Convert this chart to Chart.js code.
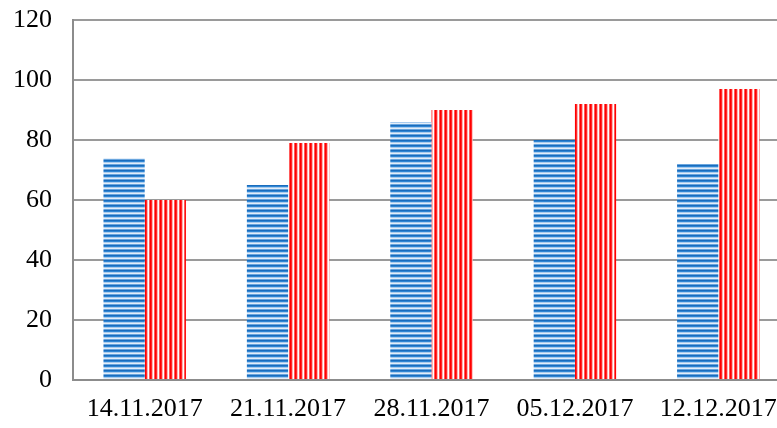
<!DOCTYPE html>
<html>
<head>
<meta charset="utf-8">
<script src="https://cdn.jsdelivr.net/npm/chart.js@4/dist/chart.umd.min.js"></script>
<style>
  html, body { margin: 0; padding: 0; background: #ffffff; overflow: hidden; }
  #wrap { position: relative; width: 790px; height: 428px; }
</style>
</head>
<body>
<div id="wrap"><canvas id="c"></canvas></div>
<script>
const categories = ["14.11.2017", "21.11.2017", "28.11.2017", "05.12.2017", "12.12.2017"];
const seriesBlue = [74, 65, 86, 80, 72];
const seriesRed = [60, 79, 90, 92, 97];
const yTicks = [0, 20, 40, 60, 80, 100, 120];

function makePattern(colors, horizontal) {
  const n = colors.length;
  const cv = document.createElement('canvas');
  cv.width = horizontal ? 1 : n;
  cv.height = horizontal ? n : 1;
  const ctx = cv.getContext('2d');
  colors.forEach((c, i) => {
    ctx.fillStyle = c;
    if (horizontal) ctx.fillRect(0, i, 1, 1); else ctx.fillRect(i, 0, 1, 1);
  });
  return document.createElement('canvas').getContext('2d').createPattern(cv, 'repeat');
}

const bluePattern = makePattern(['#1a6cbd', '#2f86d3', '#a8cbee', '#e3eefa', '#6aa6de'], true);
const redPattern = makePattern(['#ff0000', '#ff2a2a', '#ffb3b3', '#ffffff', '#ff5a5a'], false);

const fontFamily = '"Liberation Serif", "Times New Roman", serif';

new Chart(document.getElementById('c'), {
  type: 'bar',
  data: {
    labels: categories,
    datasets: [
      { data: seriesBlue, backgroundColor: bluePattern, borderWidth: 0, barPercentage: 1.0, categoryPercentage: 0.575 },
      { data: seriesRed, backgroundColor: redPattern, borderWidth: 0, barPercentage: 1.0, categoryPercentage: 0.575 }
    ]
  },
  options: {
    responsive: true,
    maintainAspectRatio: false,
    animation: false,
    devicePixelRatio: 1,
    layout: { padding: { top: 20, right: 0, left: 0, bottom: 0 } },
    plugins: { legend: { display: false }, tooltip: { enabled: false } },
    scales: {
      x: {
        grid: { display: false, drawTicks: false },
        border: { display: true, color: '#8c8c8c', width: 2 },
        ticks: { color: '#000000', font: { family: fontFamily, size: 26 }, padding: 14, maxRotation: 0, autoSkip: false },
        afterFit: (s) => { s.height = 48; s.paddingLeft = 0; s.paddingRight = 0; }
      },
      y: {
        min: 0, max: 120,
        afterBuildTicks: (s) => { s.ticks = yTicks.map(v => ({ value: v })); },
        grid: { color: '#9a9a9a', lineWidth: 2, drawTicks: false },
        border: { display: true, color: '#8c8c8c', width: 2 },
        ticks: { color: '#000000', font: { family: fontFamily, size: 26 }, padding: 21 },
        afterFit: (s) => { s.width = 73; s.paddingTop = 0; s.paddingBottom = 0; }
      }
    }
  }
});
</script>
</body>
</html>
